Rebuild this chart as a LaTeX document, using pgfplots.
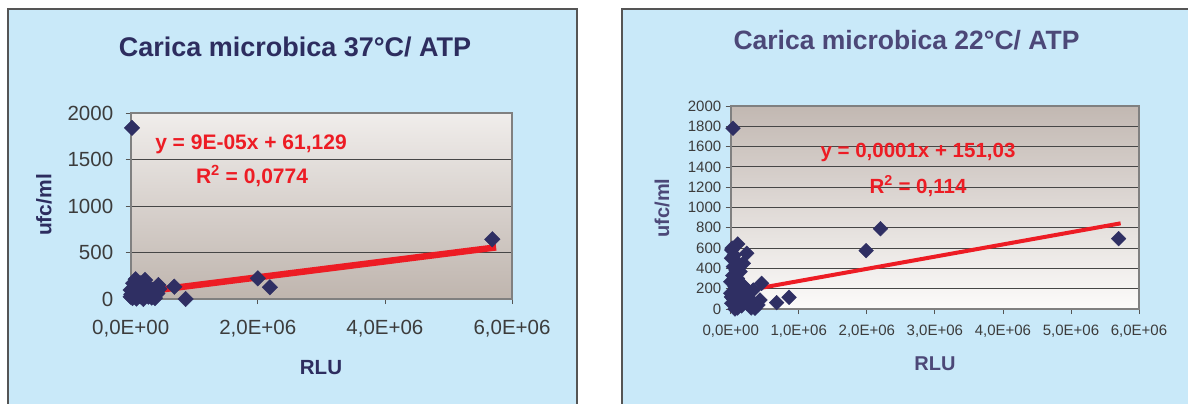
\documentclass[border=0pt]{standalone}
\usepackage{fontspec}
\setmainfont{Liberation Sans}
\usepackage{pgfplots}
\pgfplotsset{compat=1.18}
\definecolor{panelblue}{RGB}{201,233,249}
\definecolor{bordergray}{RGB}{85,85,85}
\definecolor{navy}{RGB}{47,47,99}
\definecolor{titleL}{RGB}{45,45,95}
\definecolor{titleR}{RGB}{76,72,120}
\definecolor{trend}{RGB}{237,28,36}
\definecolor{ticktxt}{RGB}{60,60,60}
\definecolor{gridc}{RGB}{70,70,70}
\definecolor{frame}{RGB}{128,128,128}
\definecolor{bgLtop}{RGB}{240,237,235}
\definecolor{bgLbot}{RGB}{191,181,174}
\definecolor{bgRtop}{RGB}{194,184,178}
\definecolor{bgRbot}{RGB}{252,251,250}
\begin{document}
\begin{tikzpicture}[x=1bp,y=1bp]
\useasboundingbox (0,0) rectangle (1188,403);
\clip (0,0) rectangle (1188,403);
\fill[white] (0,0) rectangle (1188,403);
\draw[fill=panelblue, draw=bordergray, line width=1.2bp] (8,-10) rectangle (577,394);
\draw[fill=panelblue, draw=bordergray, line width=1.2bp] (622,-10) rectangle (1200,394);

% ---------------- left chart ----------------
\begin{axis}[
  at={(130.7bp,104bp)}, anchor=south west,
  scale only axis, width=381.3bp, height=186bp,
  xmin=0, xmax=6000000, ymin=0, ymax=2000,
  xtick={0,2000000,4000000,6000000},
  xticklabels={{0,0E+00},{2,0E+06},{4,0E+06},{6,0E+06}},
  ytick={0,500,1000,1500,2000},
  scaled ticks=false,
  /pgf/number format/assume math mode=true,
  /pgf/number format/1000 sep={},
  tick align=outside, xtick pos=bottom, ytick pos=left,
  major tick length=5bp,
  tick style={draw=bordergray, line width=0.8bp},
  ticklabel style={font=\fontsize{20.5bp}{22bp}\selectfont, text=ticktxt},
  xticklabel style={yshift=-13bp},
  yticklabel style={xshift=-9bp},
  ymajorgrids, grid style={draw=gridc, line width=0.9bp},
  axis line style={draw=frame, line width=1.8bp},
  axis background/.style={top color=bgLtop, bottom color=bgLbot},
  clip=false,
]
\addplot[only marks, mark=square*, mark size=5.5bp, mark options={rotate=45, fill=navy, draw=navy}] coordinates {
(20000,1840) (79000,212) (225000,204) (0,97) (0,25) (434000,150) (382000,10)
(686000,132) (865000,0) (2000000,222) (68000,64) (277000,25) (200000,0)
(2190000,126) (5690000,642)
(10000,50) (30000,10) (50000,120) (100000,80) (150000,30) (120000,130)
(300000,60) (350000,100) (250000,150) (40000,170) (160000,170) (90000,5)
(180000,90) (420000,60) (450000,110) (330000,15)
};
\addplot[draw=trend, line width=6.5bp] coordinates {(0,61) (5750000,555)};
\end{axis}
\node[text=titleL, font=\fontsize{27bp}{30bp}\selectfont\bfseries] at (295,356) {Carica microbica 37°C/ ATP};
\node[text=titleL, font=\fontsize{20.5bp}{22bp}\selectfont\bfseries] at (321,35) {RLU};
\node[text=titleL, font=\fontsize{21bp}{22bp}\selectfont\bfseries, rotate=90] at (44,198) {ufc/ml};
\node[text=trend, font=\fontsize{21bp}{22bp}\selectfont\bfseries] at (251,259) {y = 9E-05x + 61,129};
\node[text=trend, font=\fontsize{21bp}{22bp}\selectfont\bfseries] at (252,227) {R\textsuperscript{2} = 0,0774};

% ---------------- right chart ----------------
\begin{axis}[
  at={(730.7bp,94bp)}, anchor=south west,
  scale only axis, width=408.3bp, height=203bp,
  xmin=0, xmax=6000000, ymin=0, ymax=2000,
  xtick={0,1000000,2000000,3000000,4000000,5000000,6000000},
  xticklabels={{0,0E+00},{1,0E+06},{2,0E+06},{3,0E+06},{4,0E+06},{5,0E+06},{6,0E+06}},
  ytick={0,200,...,2000},
  scaled ticks=false,
  /pgf/number format/assume math mode=true,
  /pgf/number format/1000 sep={},
  tick align=outside, xtick pos=bottom, ytick pos=left,
  major tick length=5bp,
  tick style={draw=bordergray, line width=0.8bp},
  ticklabel style={font=\fontsize{15bp}{17bp}\selectfont, text=ticktxt},
  xticklabel style={yshift=-8bp},
  yticklabel style={xshift=-1bp},
  ymajorgrids, grid style={draw=gridc, line width=0.9bp},
  axis line style={draw=frame, line width=1.8bp},
  axis background/.style={top color=bgRtop, bottom color=bgRbot},
  clip=false,
]
\addplot[only marks, mark=square*, mark size=5.2bp, mark options={rotate=45, fill=navy, draw=navy}] coordinates {
(34000,1780) (103000,640) (235000,549) (15000,581) (63000,483) (39000,417)
(137000,368) (185000,450) (0,269) (63000,220) (455000,253) (332000,187)
(430000,89) (675000,62) (857000,115) (357000,7) (15000,56) (63000,0)
(235000,56) (0,155) (1990000,575) (2200000,791) (5700000,693)
(20000,600) (50000,530) (10000,500) (80000,380) (30000,330) (100000,300)
(120000,250) (150000,200) (10000,120) (40000,100) (90000,130) (200000,150)
(160000,30) (280000,100) (300000,10) (100000,10) (400000,40) (250000,180)
(200000,220)
};
\addplot[draw=trend, line width=4bp] coordinates {(0,155) (5730000,844)};
\end{axis}
\node[text=titleR, font=\fontsize{26.5bp}{30bp}\selectfont\bfseries] at (906.5,363) {Carica microbica 22°C/ ATP};
\node[text=titleR, font=\fontsize{20bp}{22bp}\selectfont\bfseries] at (935,39) {RLU};
\node[text=titleR, font=\fontsize{20bp}{22bp}\selectfont\bfseries, rotate=90] at (662,195) {ufc/ml};
\node[text=trend, font=\fontsize{20.5bp}{22bp}\selectfont\bfseries] at (918,251) {y = 0,0001x + 151,03};
\node[text=trend, font=\fontsize{20.5bp}{22bp}\selectfont\bfseries] at (918,217) {R\textsuperscript{2} = 0,114};
\end{tikzpicture}
\end{document}
